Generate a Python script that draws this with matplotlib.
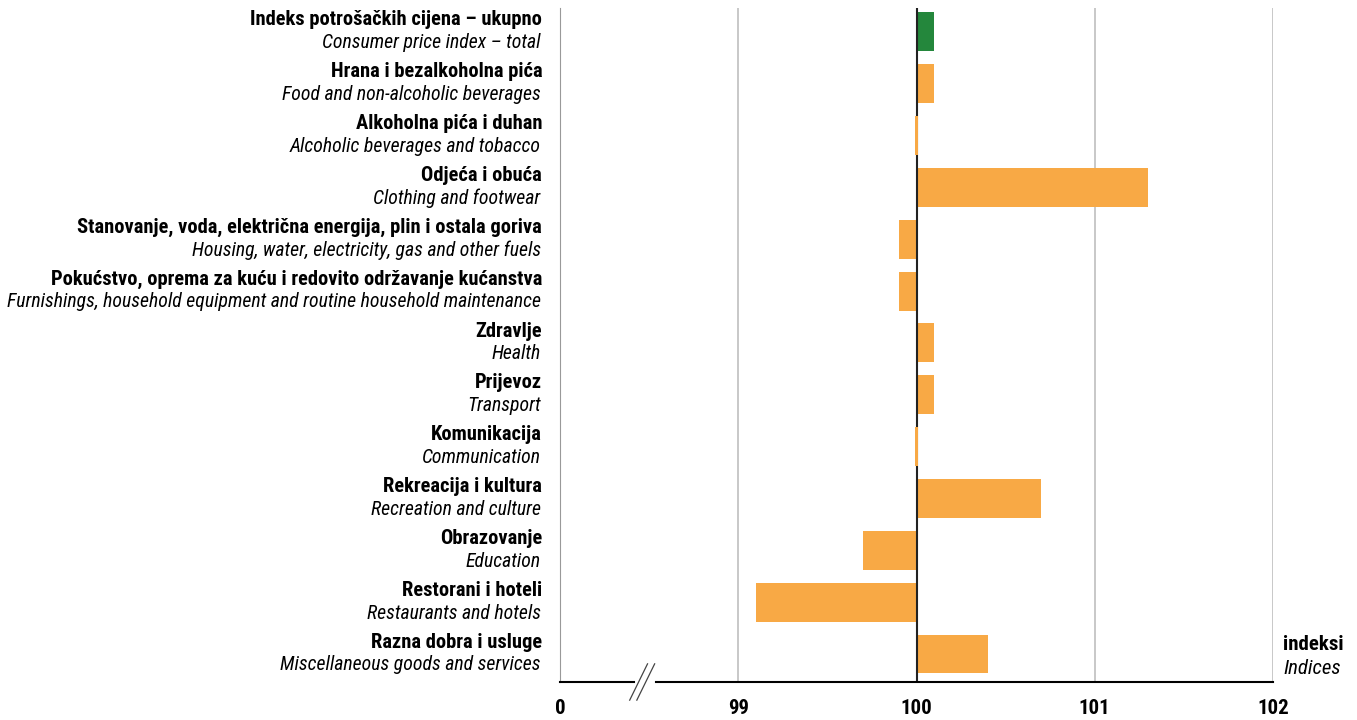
import matplotlib.pyplot as plt
from matplotlib import font_manager

# Podaci
kategorije_hr = [
    "Indeks potrošačkih cijena – ukupno",
    "Hrana i bezalkoholna pića",
    "Alkoholna pića i duhan",
    "Odjeća i obuća",
    "Stanovanje, voda, električna energija, plin i ostala goriva",
    "Pokućstvo, oprema za kuću i redovito održavanje kućanstva",
    "Zdravlje",
    "Prijevoz",
    "Komunikacija",
    "Rekreacija i kultura",
    "Obrazovanje",
    "Restorani i hoteli",
    "Razna dobra i usluge",
]
kategorije_en = [
    "Consumer price index – total",
    "Food and non-alcoholic beverages",
    "Alcoholic beverages and tobacco",
    "Clothing and footwear",
    "Housing, water, electricity, gas and other fuels",
    "Furnishings, household equipment and routine household maintenance",
    "Health",
    "Transport",
    "Communication",
    "Recreation and culture",
    "Education",
    "Restaurants and hotels",
    "Miscellaneous goods and services",
]
indeksi = [100.1, 100.1, 100.0, 101.3, 99.9, 99.9, 100.1, 100.1, 100.0, 100.7, 99.7, 99.1, 100.4]
x_ticks = [98, 99, 100, 101, 102]
x_labels = ["0", "99", "100", "101", "102"]

installed = {f.name for f in font_manager.fontManager.ttflist}
fam = "Roboto"
for kandidat in ["Roboto Condensed", "Liberation Sans Narrow"]:
    if kandidat in installed:
        fam = kandidat
        break
plt.rcParams['font.family'] = [fam, 'DejaVu Sans']

zelena = "#24873c"
narancasta = "#f8a945"

fig = plt.figure(figsize=(13.57, 7.2), dpi=100)
ax = fig.add_axes([560/1357, 38/720, (1273-560)/1357, 674/720])

n = len(indeksi)
y_dno = 12.54
for i, v in enumerate(indeksi):
    boja = zelena if i == 0 else narancasta
    w = v - 100
    if abs(w) < 0.01:
        # nulta promjena - tanka crta preko osi
        ax.barh(i, 0.012, left=99.994, height=0.75, color=boja, zorder=4)
    else:
        ax.barh(i, w, left=100, height=0.75, color=boja, zorder=2)
    ax.text(-0.025, i - 0.23, kategorije_hr[i], transform=ax.get_yaxis_transform(),
            ha="right", va="center", fontsize=14.8, fontweight="bold")
    ax.text(-0.027, i + 0.21, kategorije_en[i], transform=ax.get_yaxis_transform(),
            ha="right", va="center", fontsize=14.2, style="italic")

ax.set_xlim(98, 102)
ax.set_ylim(y_dno, -0.46)
for g in [99, 101, 102]:
    ax.axvline(g, color="#c4c4c4", lw=1.3, zorder=1)
ax.axvline(100, color="#222222", lw=1.5, zorder=3)

for s in ["top", "right"]:
    ax.spines[s].set_visible(False)
ax.spines["left"].set_color("#999999")
ax.spines["left"].set_linewidth(0.8)
ax.spines["bottom"].set_visible(False)

# donja os s prekidom
brk = 98.476
ax.plot([98, brk - 0.06], [y_dno, y_dno], color="black", lw=1.5, clip_on=False, zorder=4)
ax.plot([brk + 0.06, 102], [y_dno, y_dno], color="black", lw=1.5, clip_on=False, zorder=4)
for dx in [-0.035, 0.005]:
    ax.plot([brk + dx - 0.05, brk + dx + 0.05], [y_dno + 0.35, y_dno - 0.35],
            color="#444444", lw=0.9, clip_on=False, zorder=4)

ax.set_yticks([])
ax.set_xticks(x_ticks)
ax.set_xticklabels(x_labels, fontsize=15, fontweight="bold")
ax.tick_params(axis="x", length=0, pad=12)

ax.text(1.014, 12 - 0.18, "indeksi", transform=ax.get_yaxis_transform(),
        ha="left", va="center", fontsize=15, fontweight="bold")
ax.text(1.014, 12 + 0.27, "Indices", transform=ax.get_yaxis_transform(),
        ha="left", va="center", fontsize=15, style="italic")

fig.savefig("out.png", dpi=100)
